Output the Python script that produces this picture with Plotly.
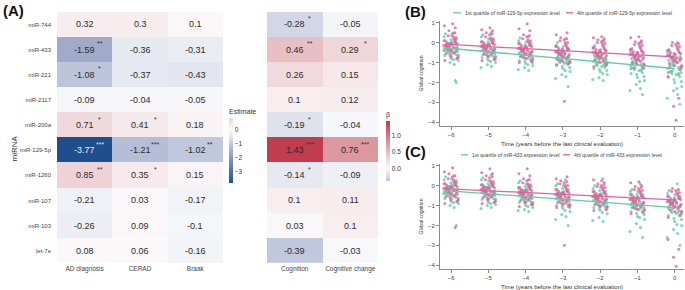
import plotly.graph_objects as go

# ---------------- data ----------------
MIRNAS = ["miR-744", "miR-433", "miR-221", "miR-2117", "miR-200a",
          "miR-129-5p", "miR-1260", "miR-107", "miR-103", "let-7e"]
PATH_COLS = ["AD diagnosis", "CERAD", "Braak"]
COG_COLS = ["Cognition", "Cognitive change"]

AD_DIAG = [0.32, -1.59, -1.08, -0.09, 0.71, -3.77, 0.85, -0.21, -0.26, 0.08]
CERAD = [0.3, -0.36, -0.37, -0.04, 0.41, -1.21, 0.35, 0.03, 0.09, 0.06]
BRAAK = [0.1, -0.31, -0.43, -0.05, 0.18, -1.02, 0.15, -0.17, -0.1, -0.16]
COGNITION = [-0.28, 0.46, 0.26, 0.1, -0.19, 1.43, -0.14, 0.1, 0.03, -0.39]
COG_CHANGE = [-0.05, 0.29, 0.15, 0.12, -0.04, 0.76, -0.09, 0.11, 0.1, -0.03]

SIG_AD = ["", "**", "*", "", "*", "***", "**", "", "", ""]
SIG_CERAD = ["", "", "", "", "*", "***", "*", "", "", ""]
SIG_BRAAK = ["", "", "", "", "", "**", "", "", "", ""]
SIG_COG = ["*", "**", "", "", "*", "***", "*", "", "", ""]
SIG_CHANGE = ["", "*", "", "", "", "***", "", "", "", ""]

TIMES = [-6, -5, -4, -3, -2, -1, 0]
JITTER = [-0.18, 0.05, -0.08, 0.15, -0.02, 0.1, -0.15, 0.19, -0.11, 0.02, 0.13, -0.05,
          0.08, -0.19, 0.17, -0.13, 0.0, 0.11, -0.07, 0.04, 0.14, -0.16, 0.07, -0.03,
          0.16, -0.09, 0.03, -0.17, 0.12, -0.01, 0.09, -0.12, 0.18, -0.06, 0.01, -0.14,
          0.06, -0.04, 0.11, -0.2]

B_Q1 = [
    [-0.3, -0.1, -0.5, 0.2, -0.7, -0.25, 0.45, -0.9, -0.35, 0.05, -0.6, -0.15, -1.1, 0.3, -0.45, -0.2, -0.8, 0.1, -0.05, -0.55, -2.0, -0.4, 0.5, -1.0],
    [-0.4, -0.2, -0.6, 0.1, -0.8, -0.35, 0.4, -1.0, -0.5, -0.05, -0.7, -0.25, -1.2, 0.3, -0.55, -0.3, -0.9, 0.0, -0.15, -0.65, -0.45, -0.1, 0.5, -1.1],
    [-0.55, -0.35, -0.75, -0.05, -0.95, -0.5, 0.25, -1.15, -0.65, -0.2, -0.85, -0.4, -1.4, 0.1, -0.7, -0.45, -1.05, -0.15, -0.3, -0.8, -0.6, -0.25, 0.3, -1.25],
    [-0.8, -0.6, -1.0, -0.3, -1.2, -0.75, 0.0, -1.45, -0.9, -0.45, -1.1, -0.65, -1.7, -0.15, -0.95, -0.7, -1.3, -0.4, -0.55, -1.05, -2.2, -0.5, 0.2, -1.6],
    [-0.95, -0.75, -1.15, -0.45, -1.35, -0.9, -0.15, -1.6, -1.05, -0.6, -1.25, -0.8, -1.9, -0.3, -1.1, -0.85, -1.45, -0.55, -0.7, -1.2, -1.0, -0.65, 0.1, -1.75],
    [-1.15, -0.9, -1.35, -0.6, -1.6, -1.1, -0.3, -1.9, -1.25, -0.75, -1.5, -1.0, -2.3, -0.45, -1.3, -1.05, -1.75, -0.7, -0.85, -1.4, -2.6, -0.8, 0.0, -2.1],
    [-1.3, -1.0, -1.55, -0.7, -1.85, -1.25, -0.35, -2.2, -1.45, -0.85, -1.7, -1.15, -2.6, -0.5, -1.5, -1.2, -2.0, -0.8, -0.95, -1.6, -3.1, -0.9, 0.0, -2.4],
]
B_Q1_MORE = [
    [-0.2, -0.45, 0.0, -0.65, -0.3, 0.15, -0.5, -0.1, -0.75, -0.35, 0.35, -0.25, -0.85, -0.05, -1.9, -0.4],
    [-0.3, -0.55, -0.1, -0.75, -0.4, 0.05, -0.6, -0.2, -0.85, -0.45, 0.2, -0.35, -0.95, -0.15, -0.5, -1.25],
    [-0.45, -0.7, -0.25, -0.9, -0.55, -0.1, -0.75, -0.35, -1.0, -0.6, 0.05, -0.5, -1.1, -0.3, -0.65, -1.35],
    [-0.7, -0.95, -0.5, -1.15, -0.8, -0.3, -1.0, -0.6, -1.25, -0.85, -0.2, -0.75, -1.4, -0.55, -0.9, -1.8],
    [-0.85, -1.1, -0.65, -1.3, -0.95, -0.45, -1.15, -0.75, -1.4, -1.0, -0.35, -0.9, -1.55, -0.7, -1.05, -1.85],
    [-1.05, -1.3, -0.85, -1.55, -1.2, -0.65, -1.4, -0.95, -1.7, -1.25, -0.5, -1.1, -1.95, -0.9, -1.35, -2.4],
    [-1.2, -1.45, -0.95, -1.75, -1.35, -0.75, -1.6, -1.1, -1.95, -1.4, -0.6, -1.25, -2.3, -1.05, -1.55, -2.8],
]
B_Q4 = [
    [-0.15, 0.05, -0.35, 0.3, -0.55, -0.1, 0.6, -0.75, -0.2, 0.15, -0.45, 0.0, -0.9, 0.45, -0.3, -0.05, -0.6, 0.2, 0.1, -0.4, 0.95, -0.25, 0.75, -0.7],
    [-0.2, 0.0, -0.4, 0.25, -0.6, -0.15, 0.5, -0.8, -0.25, 0.1, -0.5, -0.05, -0.9, 0.4, -0.35, -0.1, -0.65, 0.15, 0.05, -0.45, 0.75, -0.3, 0.6, -0.7],
    [-0.3, -0.1, -0.5, 0.15, -0.7, -0.25, 0.4, -0.9, -0.35, 0.0, -0.6, -0.15, -1.0, 0.3, -0.45, -0.2, -0.75, 0.05, -0.05, -0.55, 0.95, -0.4, 0.6, -0.8],
    [-0.45, -0.25, -0.65, 0.0, -0.85, -0.4, 0.25, -1.0, -0.5, -0.15, -0.75, -0.3, -1.1, 0.15, -0.6, -0.35, -0.9, -0.1, -0.2, -0.7, -2.95, -0.55, 0.5, -0.95],
    [-0.5, -0.3, -0.7, -0.05, -0.9, -0.45, 0.15, -1.05, -0.55, -0.2, -0.8, -0.35, -1.2, 0.05, -0.65, -0.4, -0.95, -0.15, -0.25, -0.75, 0.3, -0.6, 0.2, -1.0],
    [-0.6, -0.4, -0.8, -0.15, -1.0, -0.55, 0.05, -1.15, -0.65, -0.3, -0.9, -0.45, -1.3, -0.05, -0.75, -0.5, -1.05, -0.25, -0.35, -0.85, 0.3, -0.7, 0.1, -1.1],
    [-0.65, -0.45, -0.85, -0.2, -1.05, -0.6, 0.0, -1.25, -0.7, -0.35, -0.95, -0.5, -1.5, -0.1, -0.8, -0.55, -3.2, -0.3, -0.4, -0.9, -3.9, -0.75, -2.8, -1.15],
]
B_Q4_MORE = [
    [-0.1, -0.3, 0.1, -0.5, -0.2, 0.25, -0.4, 0.0, -0.65, -0.15, 0.5, -0.05, -0.8, 0.35, -0.25, 0.85],
    [-0.15, -0.35, 0.05, -0.55, -0.25, 0.2, -0.45, -0.05, -0.7, -0.2, 0.45, -0.1, -0.85, 0.3, -0.3, 0.65],
    [-0.25, -0.45, -0.05, -0.65, -0.35, 0.1, -0.55, -0.15, -0.8, -0.3, 0.35, -0.2, -0.95, 0.2, -0.4, 0.7],
    [-0.4, -0.6, -0.2, -0.8, -0.5, 0.0, -0.7, -0.3, -0.95, -0.45, 0.2, -0.35, -1.05, 0.1, -0.55, 0.4],
    [-0.45, -0.65, -0.25, -0.85, -0.55, -0.05, -0.75, -0.35, -1.0, -0.5, 0.1, -0.4, -1.15, 0.0, -0.6, 0.25],
    [-0.55, -0.75, -0.35, -0.95, -0.65, -0.15, -0.85, -0.45, -1.1, -0.6, 0.0, -0.5, -1.25, -0.1, -0.7, 0.25],
    [-0.6, -0.8, -0.4, -1.0, -0.7, -0.2, -0.9, -0.5, -1.15, -0.65, -0.05, -0.55, -1.35, -0.15, -0.75, -1.7],
]
C_Q1 = [
    [-0.3, -0.1, -0.5, 0.15, -0.7, -0.25, 0.45, -0.9, -0.35, 0.05, -0.6, -0.15, -1.1, 0.3, -0.45, -0.2, -0.8, 0.1, -0.05, -0.55, -2.0, -0.4, 0.5, -1.0],
    [-0.35, -0.15, -0.55, 0.1, -0.75, -0.3, 0.4, -0.95, -0.45, 0.0, -0.65, -0.2, -1.1, 0.3, -0.5, -0.25, -0.85, 0.05, -0.1, -0.6, -0.4, -0.05, 0.55, -1.0],
    [-0.5, -0.3, -0.7, -0.05, -0.9, -0.45, 0.25, -1.1, -0.6, -0.15, -0.8, -0.35, -1.3, 0.15, -0.65, -0.4, -1.0, -0.1, -0.25, -0.75, -0.55, -0.2, 0.3, -1.2],
    [-0.65, -0.45, -0.85, -0.2, -1.05, -0.6, 0.1, -1.3, -0.75, -0.3, -0.95, -0.5, -1.55, 0.0, -0.8, -0.55, -1.15, -0.25, -0.4, -0.9, -2.0, -0.35, 0.3, -1.45],
    [-0.75, -0.55, -0.95, -0.3, -1.15, -0.7, 0.0, -1.4, -0.85, -0.4, -1.05, -0.6, -1.8, -0.15, -0.9, -0.65, -1.25, -0.35, -0.5, -1.0, -0.8, -0.45, 0.35, -1.6],
    [-0.95, -0.7, -1.15, -0.45, -1.4, -0.9, -0.2, -1.7, -1.05, -0.55, -1.3, -0.8, -2.1, -0.3, -1.1, -0.85, -1.55, -0.5, -0.65, -1.2, -2.6, -0.6, 0.1, -1.9],
    [-1.1, -0.85, -1.35, -0.55, -1.65, -1.05, -0.25, -2.0, -1.25, -0.7, -1.5, -0.95, -2.4, -0.4, -1.3, -1.0, -1.8, -0.65, -0.8, -1.4, -3.0, -0.75, 0.1, -2.2],
]
C_Q1_MORE = [
    [-0.2, -0.45, 0.0, -0.65, -0.3, 0.15, -0.5, -0.1, -0.75, -0.35, 0.35, -0.25, -0.85, -0.05, -0.55, -0.4],
    [-0.25, -0.5, -0.05, -0.7, -0.35, 0.1, -0.55, -0.15, -0.8, -0.4, 0.25, -0.3, -0.9, -0.1, -0.45, -1.15],
    [-0.4, -0.65, -0.2, -0.85, -0.5, -0.05, -0.7, -0.3, -0.95, -0.55, 0.1, -0.45, -1.05, -0.25, -0.6, -1.25],
    [-0.55, -0.8, -0.35, -1.0, -0.65, -0.15, -0.85, -0.45, -1.1, -0.7, 0.0, -0.6, -1.25, -0.4, -0.75, -1.7],
    [-0.65, -0.9, -0.45, -1.1, -0.75, -0.25, -0.95, -0.55, -1.2, -0.8, -0.1, -0.7, -1.35, -0.5, -0.85, -1.75],
    [-0.85, -1.1, -0.65, -1.3, -0.95, -0.45, -1.15, -0.75, -1.45, -1.0, -0.3, -0.9, -1.6, -0.7, -1.05, -2.3],
    [-1.0, -1.25, -0.8, -1.5, -1.1, -0.6, -1.35, -0.9, -1.7, -1.15, -0.45, -1.05, -1.95, -0.85, -1.25, -2.6],
]
C_Q4 = [
    [-0.15, 0.05, -0.35, 0.3, -0.55, -0.1, 0.6, -0.75, -0.2, 0.15, -0.45, 0.0, -0.9, 0.45, -0.3, -0.05, -0.6, 0.2, 0.1, -0.4, 0.9, -0.25, -2.1, -0.7],
    [-0.2, 0.0, -0.4, 0.25, -0.6, -0.15, 0.5, -0.8, -0.25, 0.1, -0.5, -0.05, -0.9, 0.4, -0.35, -0.1, -0.65, 0.15, 0.05, -0.45, 0.85, -0.3, 0.6, -0.7],
    [-0.35, -0.15, -0.55, 0.1, -0.75, -0.3, 0.35, -0.95, -0.4, -0.05, -0.65, -0.2, -1.05, 0.25, -0.5, -0.25, -0.8, 0.0, -0.1, -0.6, 0.85, -0.45, 0.5, -0.85],
    [-0.45, -0.25, -0.65, 0.0, -0.85, -0.4, 0.25, -1.0, -0.5, -0.15, -0.75, -0.3, -1.1, 0.15, -0.6, -0.35, -0.9, -0.1, -0.2, -0.7, -3.0, -0.55, 0.45, -0.95],
    [-0.55, -0.35, -0.75, -0.1, -0.95, -0.5, 0.1, -1.1, -0.6, -0.25, -0.85, -0.4, -1.25, 0.0, -0.7, -0.45, -1.0, -0.2, -0.3, -0.8, 0.25, -0.65, 0.15, -1.05],
    [-0.7, -0.5, -0.9, -0.25, -1.1, -0.65, -0.05, -1.25, -0.75, -0.4, -1.0, -0.55, -1.4, -0.15, -0.85, -0.6, -1.15, -0.35, -0.45, -0.95, 0.2, -0.8, 0.0, -1.2],
    [-0.8, -0.6, -1.0, -0.35, -1.2, -0.75, -0.15, -1.4, -0.85, -0.5, -1.1, -0.65, -1.6, -0.25, -0.95, -0.7, -3.6, -0.45, -0.55, -1.05, -4.05, -0.9, -3.2, -1.3],
]
C_Q4_MORE = [
    [-0.1, -0.3, 0.1, -0.5, -0.2, 0.25, -0.4, 0.0, -0.65, -0.15, 0.5, -0.05, -0.8, 0.35, -0.25, 0.7],
    [-0.15, -0.35, 0.05, -0.55, -0.25, 0.2, -0.45, -0.05, -0.7, -0.2, 0.45, -0.1, -0.85, 0.3, -0.3, 0.65],
    [-0.3, -0.5, -0.1, -0.7, -0.4, 0.05, -0.6, -0.2, -0.85, -0.35, 0.3, -0.25, -0.95, 0.15, -0.45, 0.6],
    [-0.4, -0.6, -0.2, -0.8, -0.5, 0.0, -0.7, -0.3, -0.95, -0.45, 0.2, -0.35, -1.05, 0.1, -0.55, 0.35],
    [-0.5, -0.7, -0.3, -0.9, -0.6, -0.1, -0.8, -0.4, -1.05, -0.55, 0.05, -0.45, -1.2, -0.05, -0.65, 0.3],
    [-0.65, -0.85, -0.45, -1.05, -0.75, -0.25, -0.95, -0.55, -1.2, -0.7, -0.1, -0.6, -1.35, -0.2, -0.8, 0.15],
    [-0.75, -0.95, -0.55, -1.15, -0.85, -0.35, -1.05, -0.65, -1.3, -0.8, -0.2, -0.7, -1.5, -0.3, -0.9, -2.7],
]

# fitted trend lines (start/end of regression line)
TREND_X = [-6.15, 0.0]
B_Q1_FIT = [-0.27, -1.3]
B_Q4_FIT = [-0.08, -0.72]
C_Q1_FIT = [-0.25, -1.1]
C_Q4_FIT = [-0.15, -0.72]

LEG_B = ["1st quartile of miR-129-5p expression level", "4th quartile of miR-129-5p expression level"]
LEG_C = ["1st quartile of miR-433 expression level", "4th quartile of miR-433 expression level"]

# ---------------- styling helpers ----------------
W, H = 685, 290
FONT = "Liberation Sans"
GREEN = "#5fcca6"
PINK = "#e2609f"


def px(x):
    return x / W


def py(y):
    return 1 - y / H


STOPS = [(-1.0, (31, 78, 140)), (-0.5, (142, 156, 194)), (0.0, (252, 252, 253)),
         (0.5, (221, 158, 164)), (1.0, (191, 61, 77))]


def col_at(s):
    s = max(-1.0, min(1.0, s))
    for (a, ca), (b, cb) in zip(STOPS[:-1], STOPS[1:]):
        if a <= s <= b:
            f = (s - a) / (b - a)
            c = [round(ca[i] + f * (cb[i] - ca[i])) for i in range(3)]
            return "rgb(%d,%d,%d)" % tuple(c)
    return "rgb(252,252,253)"


def sub_scale(zmin, zmax):
    m = max(abs(zmin), abs(zmax))
    n = 24
    return [[i / n, col_at((zmin + (zmax - zmin) * i / n) / m)] for i in range(n + 1)]


fig = go.Figure()

# ---------------- heatmap 1 ----------------
cols1 = [AD_DIAG, CERAD, BRAAK]
sig1 = [SIG_AD, SIG_CERAD, SIG_BRAAK]
z1 = [[c[i] for c in cols1] for i in range(len(MIRNAS))]
zmin1, zmax1 = min(min(c) for c in cols1), max(max(c) for c in cols1)
fig.add_trace(go.Heatmap(
    z=z1, x=PATH_COLS, y=MIRNAS, xaxis="x", yaxis="y",
    zmin=zmin1, zmax=zmax1, colorscale=sub_scale(zmin1, zmax1),
    xgap=0, ygap=0, hoverinfo="skip",
    colorbar=dict(x=px(229), xanchor="left", y=py(145), yanchor="middle",
                  lenmode="pixels", len=77, thicknessmode="pixels", thickness=4,
                  outlinewidth=0, tickvals=[0, -1, -2, -3], ticks="",
                  tickfont=dict(size=6.5, color="#333", family=FONT),
                  title=dict(text="Estimate", side="top", font=dict(size=7, color="#333", family=FONT)),
                  xpad=0, ypad=0),
))

# ---------------- heatmap 2 ----------------
cols2 = [COGNITION, COG_CHANGE]
sig2 = [SIG_COG, SIG_CHANGE]
z2 = [[c[i] for c in cols2] for i in range(len(MIRNAS))]
zmin2, zmax2 = min(min(c) for c in cols2), max(max(c) for c in cols2)
fig.add_trace(go.Heatmap(
    z=z2, x=COG_COLS, y=MIRNAS, xaxis="x2", yaxis="y2",
    zmin=zmin2, zmax=zmax2, colorscale=sub_scale(zmin2, zmax2),
    hoverinfo="skip",
    colorbar=dict(x=px(386), xanchor="left", y=py(146), yanchor="middle",
                  lenmode="pixels", len=73, thicknessmode="pixels", thickness=4,
                  outlinewidth=0, tickvals=[0, 0.5, 1.0], ticktext=["0.0", "0.5", "1.0"], ticks="",
                  tickfont=dict(size=6.5, color="#333", family=FONT),
                  title=dict(text="β", side="top", font=dict(size=7, color="#333", family=FONT)),
                  xpad=0, ypad=0),
))

annotations = []
for (cols, sigs, cats, xr, yr) in [(cols1, sig1, PATH_COLS, "x", "y"), (cols2, sig2, COG_COLS, "x2", "y2")]:
    for j, c in enumerate(cols):
        for i, v in enumerate(c):
            txt_col = "#e8ecf4" if v < -3 else "#2b2b2b"
            annotations.append(dict(x=cats[j], y=MIRNAS[i], xref=xr, yref=yr, text=str(v),
                                    showarrow=False, font=dict(size=9, color=txt_col, family=FONT)))
            if sigs[j][i]:
                s_col = "#dfe4ef" if v < -3 else "#333"
                annotations.append(dict(x=cats[j], y=MIRNAS[i], xref=xr, yref=yr, text=sigs[j][i],
                                        showarrow=False, xshift=15, yshift=6,
                                        font=dict(size=7, color=s_col, family=FONT)))


# ---------------- scatter panels ----------------
def add_panel(q1, q1b, q4, q4b, fit1, fit4, xa, ya):
    xs1, ys1, xs4, ys4 = [], [], [], []
    for k, t in enumerate(TIMES):
        for m, v in enumerate(q1[k] + q1b[k]):
            xs1.append(t + JITTER[m])
            ys1.append(v)
        for m, v in enumerate(q4[k] + q4b[k]):
            xs4.append(t + JITTER[len(JITTER) - 1 - m])
            ys4.append(v)
    fig.add_trace(go.Scatter(x=xs1, y=ys1, mode="markers", xaxis=xa, yaxis=ya, hoverinfo="skip",
                             marker=dict(size=3, color=GREEN, opacity=0.8, line=dict(width=0)),
                             showlegend=False))
    fig.add_trace(go.Scatter(x=xs4, y=ys4, mode="markers", xaxis=xa, yaxis=ya, hoverinfo="skip",
                             marker=dict(size=3, color=PINK, opacity=0.8, line=dict(width=0)),
                             showlegend=False))
    fig.add_trace(go.Scatter(x=TREND_X, y=fit1, mode="lines", xaxis=xa, yaxis=ya, hoverinfo="skip",
                             line=dict(color=GREEN, width=1.3), showlegend=False))
    fig.add_trace(go.Scatter(x=TREND_X, y=fit4, mode="lines", xaxis=xa, yaxis=ya, hoverinfo="skip",
                             line=dict(color=PINK, width=1.3), showlegend=False))


add_panel(B_Q1, B_Q1_MORE, B_Q4, B_Q4_MORE, B_Q1_FIT, B_Q4_FIT, "x3", "y3")
add_panel(C_Q1, C_Q1_MORE, C_Q4, C_Q4_MORE, C_Q1_FIT, C_Q4_FIT, "x4", "y4")

# legends drawn as line samples + labels
shapes = []
for (yy, items) in [(12, [(453, 461, 463, GREEN, LEG_B[0]), (566, 573, 575, PINK, LEG_B[1])]),
                    (156, [(461, 468, 470, GREEN, LEG_C[0]), (563, 570, 572, PINK, LEG_C[1])])]:
    for (x0, x1, xt, c, t) in items:
        shapes.append(dict(type="line", xref="paper", yref="paper", x0=px(x0), x1=px(x1),
                           y0=py(yy), y1=py(yy), line=dict(color=c, width=1.3)))
        annotations.append(dict(x=px(xt), y=py(yy), xref="paper", yref="paper", text=t,
                                xanchor="left", yanchor="middle", showarrow=False,
                                font=dict(size=5, color="#444", family=FONT)))

# panel letters and titles
for (t, x, y) in [("(A)", 1, 10), ("(B)", 403, 11), ("(C)", 403, 153)]:
    annotations.append(dict(x=px(x), y=py(y), xref="paper", yref="paper", text="<b>%s</b>" % t,
                            xanchor="left", yanchor="middle", showarrow=False,
                            font=dict(size=15, color="#111", family=FONT)))
annotations.append(dict(x=px(8), y=py(150), xref="paper", yref="paper", text="miRNA", textangle=-90,
                        showarrow=False, font=dict(size=8, color="#333", family=FONT)))

heat_axis = dict(showgrid=False, zeroline=False, showline=False, ticks="")
time_ticks = dict(tickvals=TIMES, range=[-6.3, 0.25], showgrid=False, zeroline=False,
                  showline=True, linecolor="#8a8a8a", linewidth=1, ticks="outside", ticklen=3,
                  tickcolor="#8a8a8a", tickfont=dict(size=6, color="#444", family=FONT),
                  title=dict(text="Time (years before the last clinical evaluation)", standoff=4,
                             font=dict(size=6, color="#333", family=FONT)))
cog_ticks = dict(tickvals=[-4, -3, -2, -1, 0, 1], range=[-4.2, 1.1], showgrid=False, zeroline=False,
                 showline=True, linecolor="#8a8a8a", linewidth=1, ticks="outside", ticklen=3,
                 tickcolor="#8a8a8a", tickfont=dict(size=6, color="#444", family=FONT),
                 title=dict(text="Global cognition", standoff=4,
                            font=dict(size=5, color="#333", family=FONT)))

fig.update_layout(
    width=W, height=H, margin=dict(l=0, r=0, t=0, b=0),
    paper_bgcolor="white", plot_bgcolor="white", showlegend=False,
    font=dict(family=FONT),
    xaxis=dict(domain=[px(57), px(223)], anchor="y", side="bottom", **heat_axis,
               tickfont=dict(size=6.5, color="#444", family=FONT)),
    yaxis=dict(domain=[py(266), py(11)], anchor="x", autorange="reversed", **heat_axis,
               tickfont=dict(size=6, color="#444", family=FONT), ticklabelstandoff=5),
    xaxis2=dict(domain=[px(267), px(378)], anchor="y2", **heat_axis,
                tickfont=dict(size=6.5, color="#444", family=FONT)),
    yaxis2=dict(domain=[py(266), py(11)], anchor="x2", autorange="reversed", showticklabels=False,
                **heat_axis),
    xaxis3=dict(domain=[px(440), px(684)], anchor="y3", **time_ticks),
    yaxis3=dict(domain=[py(127), py(20)], anchor="x3", **cog_ticks),
    xaxis4=dict(domain=[px(440), px(684)], anchor="y4", **time_ticks),
    yaxis4=dict(domain=[py(272), py(165)], anchor="x4", **cog_ticks),
    annotations=annotations, shapes=shapes,
)

# the page body keeps no default margin, so the figure fills the window exactly
fig.write_html("out.html", config={"displayModeBar": False},
               post_script="document.body.style.margin='0';")
